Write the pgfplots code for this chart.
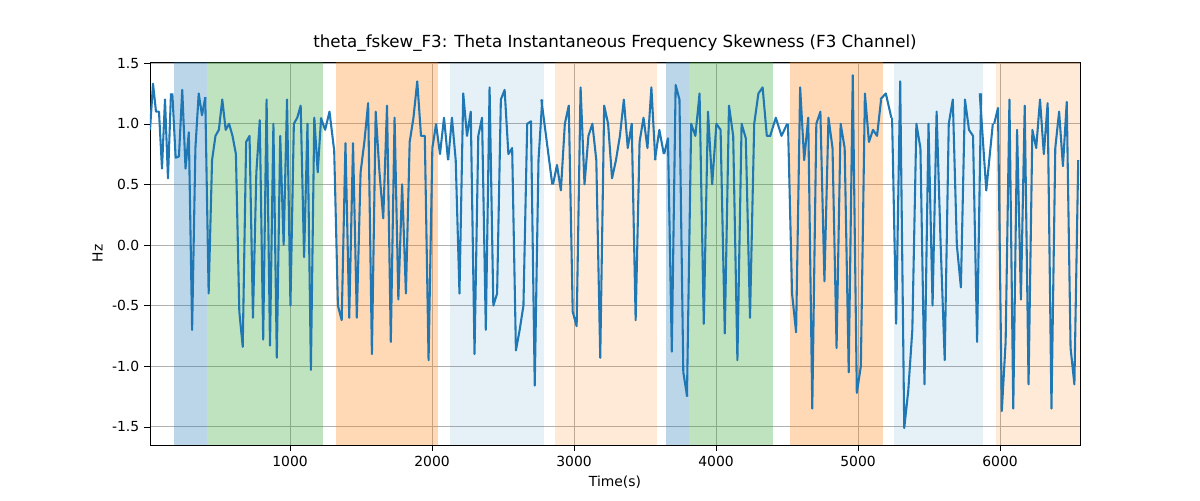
\documentclass[border=0pt]{standalone}
\usepackage{pgfplots}
\pgfplotsset{compat=1.18}
\usepackage{fontspec}
\setmainfont{DejaVu Sans}
\definecolor{tblue}{HTML}{1F77B4}
\definecolor{tgreen}{HTML}{2CA02C}
\definecolor{torange}{HTML}{FF7F0E}
\newcommand\seg[3]{\addplot[tblue, line width=1.5pt, line join=round] table[x expr={#1+(\coordindex-0.5)*#2}, y index=0, header=false, row sep=\\] {#3};}
\begin{document}
\begin{tikzpicture}[x=1pt,y=1pt]
\begin{axis}[scale only axis, width=669.6pt, height=275.8pt,
 xmin=14, xmax=6563, ymin=-1.65, ymax=1.51,
 xtick={1000,2000,3000,4000,5000,6000}, ytick={-1.5,-1,-0.5,0,0.5,1,1.5},
 yticklabel style={/pgf/number format/fixed,/pgf/number format/precision=1,/pgf/number format/fixed zerofill},
 /pgf/number format/assume math mode=true,
 /pgf/number format/1000 sep={},
 grid=major, grid style={color={rgb,255:red,176;green,176;blue,176}, line width=0.55pt},
 tick label style={font=\fontsize{10}{12}\selectfont},
 xlabel={Time(s)}, ylabel={Hz},
 label style={font=\fontsize{10}{12}\selectfont},
 title={theta\_fskew\_F3: Theta Instantaneous Frequency Skewness (F3 Channel)},
 title style={font=\fontsize{12}{14}\selectfont, yshift=-2pt},
 axis line style={black}, tick align=outside, tick style={black},
 xtick pos=bottom, ytick pos=left, clip=true]
\fill[tblue, opacity=0.3] (axis cs:183,-1.65) rectangle (axis cs:415,1.51);
\fill[tgreen, opacity=0.3] (axis cs:415,-1.65) rectangle (axis cs:1232,1.51);
\fill[torange, opacity=0.3] (axis cs:1324,-1.65) rectangle (axis cs:2042,1.51);
\fill[tblue, opacity=0.11] (axis cs:2127,-1.65) rectangle (axis cs:2789,1.51);
\fill[torange, opacity=0.16] (axis cs:2866,-1.65) rectangle (axis cs:3585,1.51);
\fill[tblue, opacity=0.3] (axis cs:3648,-1.65) rectangle (axis cs:3810,1.51);
\fill[tgreen, opacity=0.3] (axis cs:3810,-1.65) rectangle (axis cs:4401,1.51);
\fill[torange, opacity=0.3] (axis cs:4521,-1.65) rectangle (axis cs:5176,1.51);
\fill[tblue, opacity=0.11] (axis cs:5254,-1.65) rectangle (axis cs:5880,1.51);
\fill[torange, opacity=0.16] (axis cs:5972,-1.65) rectangle (axis cs:6563,1.51);
\seg{24.6}{21.1}{0.95\\1.33\\1.1\\1.1\\0.63\\1.2\\0.55\\1.25\\}
\seg{183}{23.2}{1.25\\0.72\\0.73\\1.28\\0.63\\0.93\\-0.7\\0.8\\1.25\\1.07\\1.22\\}
\seg{415}{24.0}{1.22\\-0.4\\0.7\\0.9\\0.95\\1.2\\0.95\\1.0\\0.9\\0.75\\-0.55\\-0.84\\0.85\\0.9\\-0.6\\0.6\\1.03\\-0.78\\1.2\\-0.83\\1.0\\-0.93\\0.9\\0.0\\1.2\\-0.5\\1.0\\1.05\\1.15\\-0.1\\1.0\\-1.03\\1.05\\0.6\\1.05\\}
\seg{1232}{30.7}{1.05\\0.95\\1.1\\0.8\\}
\seg{1324}{26.6}{0.8\\-0.5\\-0.62\\0.84\\-0.6\\0.84\\-0.6\\0.6\\0.85\\1.17\\-0.9\\1.1\\0.6\\0.22\\1.15\\-0.8\\1.05\\-0.45\\0.5\\-0.4\\0.85\\1.05\\1.35\\0.9\\0.9\\-0.95\\0.8\\1.0\\}
\seg{2042}{28.3}{1.0\\0.75\\1.05\\0.7\\}
\seg{2127}{26.5}{0.7\\1.05\\0.7\\-0.4\\1.25\\0.9\\1.1\\-0.9\\0.9\\1.05\\-0.7\\1.3\\-0.5\\-0.4\\1.2\\1.28\\0.75\\0.8\\-0.87\\-0.7\\-0.5\\1.0\\1.02\\-1.16\\0.7\\1.2\\}
\seg{2789}{38.5}{1.2\\0.85\\0.5\\}
\seg{2866}{27.7}{0.5\\0.66\\0.45\\1.0\\1.15\\-0.55\\-0.67\\1.3\\0.5\\0.9\\1.0\\0.7\\-0.93\\1.15\\1.0\\0.55\\0.7\\0.9\\1.2\\0.8\\1.0\\-0.62\\0.85\\1.05\\0.8\\1.3\\0.7\\}
\seg{3585}{31.5}{0.7\\0.95\\0.75\\}
\seg{3648}{27}{0.75\\0.88\\-0.88\\1.32\\1.2\\-1.05\\-1.25\\}
\seg{3810}{29.6}{-1.25\\1.0\\0.9\\1.25\\-0.65\\1.1\\0.5\\1.0\\0.95\\-0.73\\1.15\\0.9\\-0.95\\1.0\\0.88\\-0.6\\1.0\\1.25\\1.3\\0.9\\0.9\\}
\seg{4401}{40}{0.9\\1.05\\0.9\\1.0\\}
\seg{4521}{28.5}{1.0\\-0.4\\-0.72\\1.3\\0.7\\1.05\\-1.35\\1.0\\1.1\\-0.3\\1.05\\0.8\\-0.85\\1.0\\0.8\\-1.05\\1.4\\-1.22\\-1.0\\1.25\\0.85\\0.95\\0.9\\1.2\\}
\seg{5176}{39}{1.2\\1.25\\1.05\\}
\seg{5254}{28.5}{1.05\\-0.65\\1.35\\-1.51\\-1.2\\-0.7\\1.0\\0.8\\-1.15\\1.0\\-0.5\\1.1\\0.0\\-0.95\\1.0\\1.2\\0.0\\-0.35\\1.2\\0.95\\0.9\\-0.8\\1.25\\}
\seg{5880}{46}{1.25\\0.45\\1.0\\}
\seg{5972}{26.9}{1.0\\1.13\\-1.37\\-0.8\\1.2\\-1.35\\0.95\\-0.45\\1.15\\-1.15\\0.95\\0.8\\1.2\\0.75\\1.17\\-1.35\\0.8\\1.1\\0.65\\1.18\\-0.85\\-1.15\\0.7\\}
\end{axis}
\useasboundingbox (current axis.south west)+(-108pt,-39.6pt) rectangle ([xshift=86.4pt,yshift=44.6pt]current axis.north east);
\end{tikzpicture}
\end{document}
